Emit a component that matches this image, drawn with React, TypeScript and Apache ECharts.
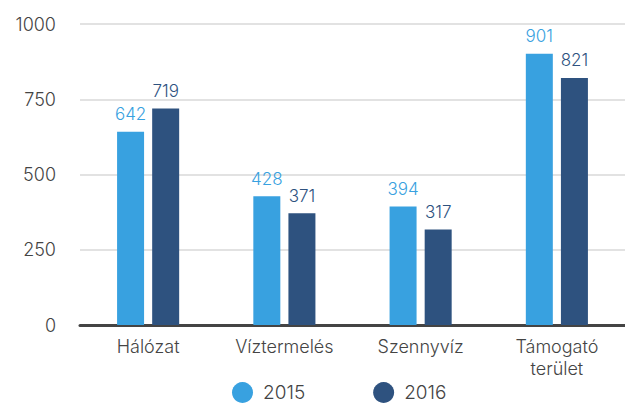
import React, { useEffect, useRef } from "react";
import * as echarts from "echarts";

const categories = ["Hálózat", "Víztermelés", "Szennyvíz", "Támogató\nterület"];
const series2015 = [642, 428, 394, 901];
const series2016 = [719, 371, 317, 821];
const seriesNames = ["2015", "2016"];
const yTicks = { min: 0, max: 1000, interval: 250 };

const C1 = "#38a1e0";
const C2 = "#2e527f";
const FONT = "Inter, 'Noto Sans', sans-serif";
const W = 300;

export default function App() {
  const ref = useRef<HTMLDivElement>(null);
  useEffect(() => {
    document.body.style.margin = "0";
    const chart = echarts.init(ref.current!, null, { renderer: "svg" });
    chart.setOption({
      animation: false,
      textStyle: { fontFamily: FONT, fontWeight: W },
      grid: { left: 80, top: 24, width: 550, bottom: 78, containLabel: false },
      legend: {
        left: 232,
        top: 382,
        padding: 0,
        itemWidth: 21,
        itemHeight: 21,
        itemGap: 68,
        icon: "circle",
        data: seriesNames,
        textStyle: { fontSize: 19, lineHeight: 16, color: "#444", fontFamily: FONT, fontWeight: W, padding: [0, 0, 0, 5] },
      },
      xAxis: {
        type: "category",
        data: categories,
        axisLine: { lineStyle: { color: "#444", width: 3 } },
        axisTick: { show: false },
        axisLabel: { color: "#444", fontSize: 18, margin: 10, lineHeight: 22, fontFamily: FONT, fontWeight: W },
      },
      yAxis: {
        type: "value",
        min: yTicks.min,
        max: yTicks.max,
        interval: yTicks.interval,
        axisLine: { show: false },
        axisTick: { show: false },
        splitLine: { lineStyle: { color: "#d9d9d9", width: 1.5 } },
        axisLabel: {
          color: "#444",
          fontSize: 18,
          margin: 24,
          fontFamily: FONT,
          fontWeight: W,
          formatter: (v: number) => String(v),
        },
      },
      series: [
        {
          name: seriesNames[0],
          type: "bar",
          data: series2015,
          barWidth: 27,
          barGap: "30%",
          itemStyle: { color: C1 },
          label: { show: true, position: "top", distance: 9, color: C1, fontSize: 17, fontFamily: FONT, fontWeight: W },
        },
        {
          name: seriesNames[1],
          type: "bar",
          data: series2016,
          barWidth: 27,
          barGap: "30%",
          itemStyle: { color: C2 },
          label: { show: true, position: "top", distance: 9, color: C2, fontSize: 17, fontFamily: FONT, fontWeight: W },
        },
      ],
    });
    return () => chart.dispose();
  }, []);
  return <div ref={ref} style={{ width: 625, height: 403 }} />;
}
